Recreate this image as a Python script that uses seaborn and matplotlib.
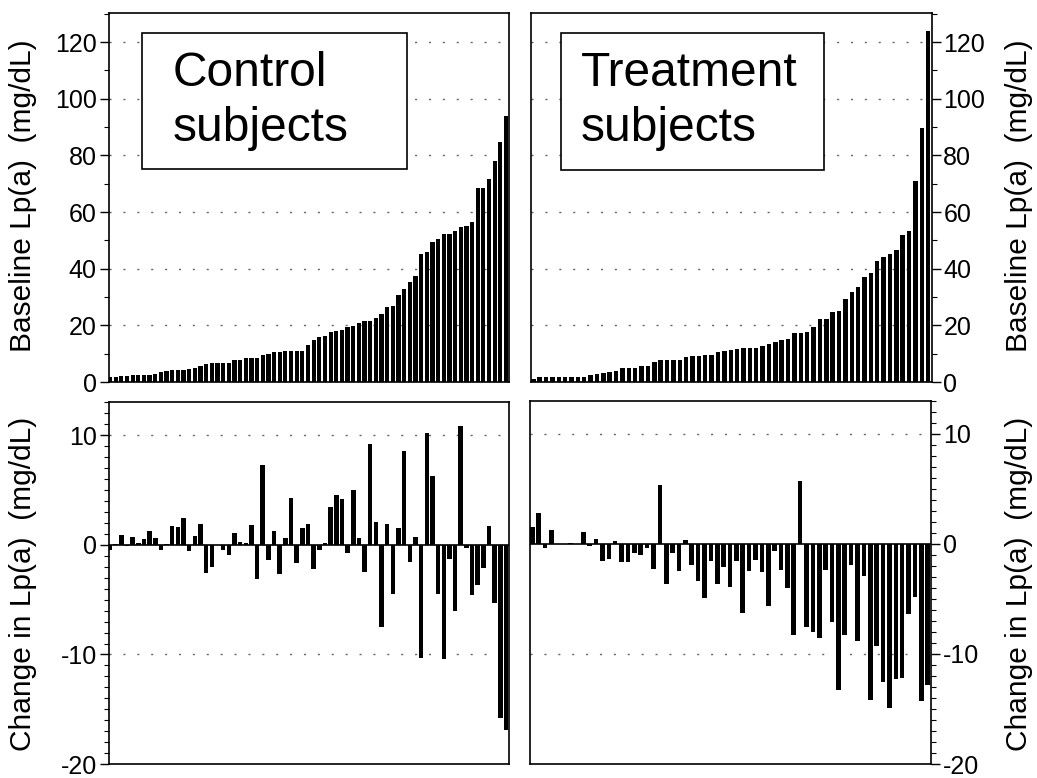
import matplotlib
matplotlib.use("Agg")
import matplotlib.pyplot as plt
import seaborn as sns
import pandas as pd
import numpy as np
from matplotlib.patches import Rectangle
from matplotlib.ticker import MultipleLocator

# ---------------- data ----------------
control_baseline = [1.9, 1.9, 2.2, 2.2, 2.6, 2.6, 2.6, 2.6, 2.9, 3.5,
                    3.9, 4.2, 4.2, 4.2, 4.5, 4.8, 5.8, 6.4, 6.8, 6.8,
                    6.8, 6.8, 7.8, 7.8, 8.4, 8.4, 8.5, 9.5, 9.9, 10.7,
                    10.7, 11.1, 11.1, 11.1, 11.1, 13.1, 14.8, 16.0, 16.4, 17.6,
                    17.9, 18.4, 19.3, 19.9, 20.9, 21.6, 21.6, 22.5, 23.9, 26.4,
                    26.9, 30.6, 32.7, 35.3, 37.3, 45.3, 45.9, 49.5, 50.5, 52.1,
                    52.1, 53.3, 54.9, 55.2, 56.5, 68.4, 68.4, 71.8, 78.2, 84.6, 94.0]
control_change = [-0.5, 0.05, 0.9, -0.1, 0.75, 0.2, 0.5, 1.3, 0.6, -0.45,
                  0.1, 1.75, 1.6, 2.5, -0.55, 0.85, 1.9, -2.55, -2.0, 0.0,
                  -0.5, -0.9, 1.05, 0.3, 0.2, 1.85, -3.1, 7.25, -1.35, 1.3,
                  -2.7, 0.6, 4.25, -1.65, 1.5, 1.95, -2.2, -0.5, 0.15, 3.5,
                  4.6, 4.2, -0.75, 5.0, 0.6, -2.45, 9.2, 2.1, -7.45, 1.9,
                  -4.5, 1.5, 8.6, -1.55, 0.75, -10.3, 10.2, 6.3, -4.5, -10.45,
                  -1.3, -6.0, 10.85, -0.25, -4.6, -3.7, -2.1, 1.7, -5.3, -15.8, -16.9]
treatment_baseline = [1.1, 1.8, 1.8, 1.8, 1.8, 1.8, 1.8, 1.8, 1.8, 2.5,
                      2.9, 3.3, 3.5, 3.9, 4.9, 4.9, 4.9, 5.8, 5.8, 6.9,
                      7.7, 7.7, 7.9, 7.9, 8.9, 9.1, 9.3, 9.6, 9.6, 10.7,
                      10.9, 11.2, 11.8, 12.1, 12.1, 12.1, 12.7, 13.5, 14.0, 14.9,
                      15.3, 17.4, 17.4, 17.6, 19.3, 22.1, 22.4, 24.7, 25.2, 29.4,
                      31.9, 33.4, 37.2, 38.4, 42.8, 44.1, 45.1, 46.6, 51.8, 53.4,
                      70.8, 89.6, 124.1]
treatment_change = [1.5, 2.8, -0.4, 1.25, 0.0, 0.0, 0.1, -0.05, 1.1, -0.25,
                    0.45, -1.6, -1.35, 0.25, -1.65, -1.65, -0.85, -1.05, -0.35, -2.3,
                    5.35, -3.65, -0.85, -2.45, 0.3, -1.95, -3.35, -4.9, -1.6, -3.65,
                    -2.15, -3.95, -1.6, -6.3, -2.45, -1.45, -2.55, -5.7, -0.65, -2.35,
                    -4.05, -8.25, 5.7, -7.6, -8.0, -8.55, -2.4, -7.1, -13.25, -8.3,
                    -1.95, -8.85, -2.9, -14.15, -9.3, -12.6, -14.9, -12.25, -12.2, -6.4,
                    -4.85, -14.25, -12.8]
group_titles = [("Control", "subjects"), ("Treatment", "subjects")]
ylabel_top = "Baseline Lp(a)  (mg/dL)"
ylabel_bottom = "Change in Lp(a)  (mg/dL)"

# ---------------- style ----------------
sns.set_style("ticks")
plt.rcParams['font.family'] = ['Liberation Sans', 'DejaVu Sans']
plt.rcParams['axes.unicode_minus'] = False
for k in ['text.color', 'axes.labelcolor', 'xtick.color', 'ytick.color', 'axes.edgecolor']:
    plt.rcParams[k] = 'black'

W, H = 1037, 778
fig = plt.figure(figsize=(W / 100, H / 100), dpi=100)


def box(l, t, r, b):
    return [l / W, 1 - b / H, (r - l) / W, (b - t) / H]


ax_tl = fig.add_axes(box(108.5, 13, 509.5, 382))
ax_tr = fig.add_axes(box(531, 13, 931.5, 382))
ax_bl = fig.add_axes(box(108.5, 402.5, 509.5, 764))
ax_br = fig.add_axes(box(530, 400.5, 931, 764))

GRID_STYLE = dict(color='#666666', lw=1.0, linestyle=(0, (1.5, 8.5)))


def draw(ax, vals, width, xlim, ylim, major, minor, right, gridvals, zero=False):
    df = pd.DataFrame({'subject': np.arange(len(vals)), 'value': vals})
    sns.barplot(data=df, x='subject', y='value', color='black', saturation=1,
                width=width, linewidth=0, errorbar=None, ax=ax, zorder=2)
    for g in gridvals:
        ax.axhline(g, zorder=0.5, **GRID_STYLE)
    if zero:
        ax.axhline(0, color='black', lw=1.2, zorder=3)
    ax.set_xlim(*xlim)
    ax.set_ylim(*ylim)
    ax.set_xticks([])
    ax.set_xlabel('')
    ax.set_ylabel('')
    ax.yaxis.set_major_locator(MultipleLocator(major))
    ax.yaxis.set_minor_locator(MultipleLocator(minor))
    ax.tick_params(axis='y', which='major', direction='out', length=6.5, width=1,
                   labelsize=18, pad=2, colors='black')
    ax.tick_params(axis='y', which='minor', direction='out', length=3.5, width=0.8)
    if right:
        ax.tick_params(axis='y', which='both', left=False, right=True,
                       labelleft=False, labelright=True)
    for s in ax.spines.values():
        s.set_color('black')
        s.set_linewidth(1.2)


draw(ax_tl, control_baseline, 0.75, (-0.265, 70.62), (0, 130.3), 20, 10, False,
     [20, 40, 60, 80, 100, 120])
draw(ax_tr, treatment_baseline, 0.7, (-0.36, 62.52), (0, 130.3), 20, 10, True,
     [20, 40, 60, 80, 100, 120])
draw(ax_bl, control_change, 0.8, (-0.265, 70.62), (-20, 13.0), 10, 1, False,
     [10, -10], zero=True)
draw(ax_br, treatment_change, 0.72, (-0.36, 62.52), (-20, 13.0), 10, 1, True,
     [10, -10], zero=True)

# y-axis titles (rotated, centred on each panel)
for x_px, y_px, txt in [(23, 196, ylabel_top), (1019, 196, ylabel_top),
                        (23, 584, ylabel_bottom), (1019, 584, ylabel_bottom)]:
    fig.text(x_px / W, 1 - y_px / H, txt, rotation=90, ha='center', va='center',
             fontsize=21.5, color='black')

# title boxes
for ax, (l1, l2), (x0, w, y0, h), tx in [
        (ax_tl, group_titles[0], (0.0843, 0.6593, 0.5772, 0.3694), 0.161),
        (ax_tr, group_titles[1], (0.0749, 0.6567, 0.5745, 0.3721), 0.125)]:
    ax.add_patch(Rectangle((x0, y0), w, h, transform=ax.transAxes, facecolor='white',
                           edgecolor='black', lw=1.2, zorder=4))
    ax.text(tx, 0.803, l1, transform=ax.transAxes, fontsize=34.5, ha='left',
            va='baseline', zorder=5, color='black')
    ax.text(tx, 0.654, l2, transform=ax.transAxes, fontsize=34.5, ha='left',
            va='baseline', zorder=5, color='black')

fig.savefig("out.png", dpi=100)
